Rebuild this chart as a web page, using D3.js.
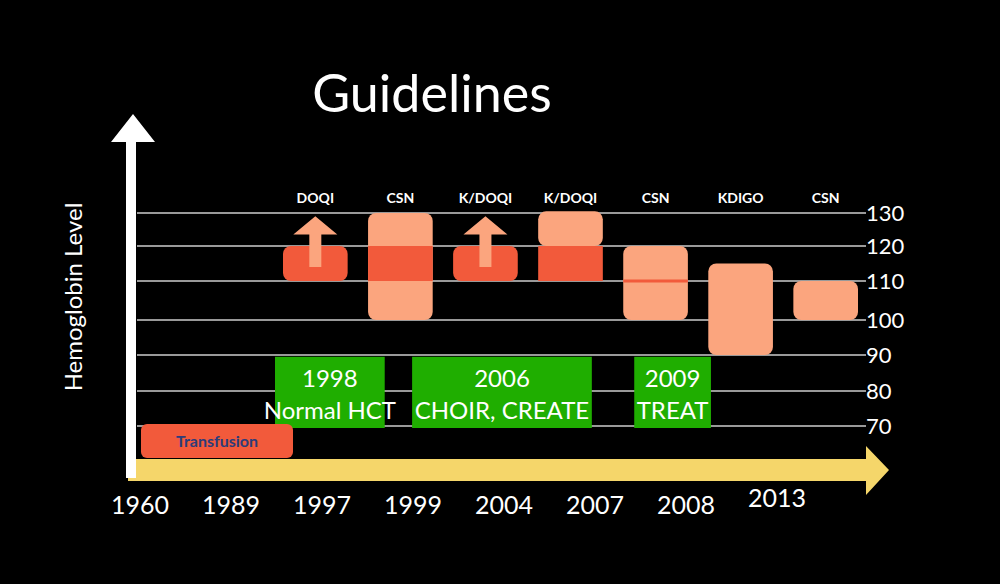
<!DOCTYPE html>
<html>
<head>
<meta charset="utf-8">
<script src="https://cdn.jsdelivr.net/npm/d3@7"></script>
<style>
  body { margin: 0; background: #000; }
  svg { display: block; font-family: Lato, "Open Sans", sans-serif; }
</style>
</head>
<body>
<svg id="chart" width="1000" height="584"></svg>
<script>
// hemoglobin ticks
var levels = [70, 80, 90, 100, 110, 120, 130];
// guideline bodies and their target ranges
var guides = ["DOQI", "CSN", "K/DOQI", "K/DOQI ", "CSN ", "KDIGO", "CSN  "];
var rangeLow  = [110, 100, 110, 120, 100, 90, 100];
var rangeHigh = [120, 130, 120, 130.5, 120, 115, 110];
// darker "core" band inside some ranges (null = none)
var coreLow  = [null, 110, null, 110, 110, null, null];
var coreHigh = [null, 120, null, 120, 110, null, null];
var hasArrow = [true, false, true, false, false, false, false];
var years = ["1960", "1989", "1997", "1999", "2004", "2007", "2008", "2013"];
// trials: guide index span they sit under, text lines
var trials = [
  {from: 0, to: 1, lines: ["1998", "Normal HCT"]},
  {from: 2, to: 3, lines: ["2006", "CHOIR, CREATE"]},
  {from: 4, to: 5, lines: ["2009", "TREAT"]}
];

var svg = d3.select("#chart");
var light = "#fba57e", red = "#f25a3b", green = "#1fae00";

// the slide spacing between levels is uneven, so piecewise scale
var y = d3.scaleLinear().domain(levels).range([426, 391, 355, 320, 281, 246, 213]);
var x = d3.scaleBand().domain(guides).range([283, 858]).paddingInner(0.24).paddingOuter(0);
var xYear = d3.scalePoint().domain(years).range([140, 777]);
var bw = x.bandwidth();

svg.append("text").attr("x", 432).attr("y", 112).attr("text-anchor", "middle")
  .attr("fill", "#fff").attr("font-size", 52).text("Guidelines");

// grid + right tick labels
svg.append("g").selectAll("line").data(levels).join("line")
  .attr("x1", 137).attr("x2", 866)
  .attr("y1", d => y(d)).attr("y2", d => y(d))
  .attr("stroke", "#ccc").attr("stroke-width", 1.5);
svg.append("g").selectAll("text").data(levels).join("text")
  .attr("x", 866).attr("y", d => y(d) + 8)
  .attr("fill", "#fff").attr("font-size", 22).text(d => d);

// trial boxes
var trialPad = [[-8, -48], [-41, -11], [11, -62]];
trials.forEach((t, k) => {
  var x0 = x(guides[t.from]) + trialPad[k][0], x1 = x(guides[t.to]) + bw + trialPad[k][1];
  var g = svg.append("g");
  g.append("rect").attr("x", x0).attr("y", y(89.5)).attr("width", x1 - x0).attr("height", y(70) + 2 - y(89.5))
    .attr("fill", green);
  g.selectAll("text").data(t.lines).join("text")
    .attr("x", (x0 + x1) / 2).attr("y", (d, i) => y(83) + 7 + i * 32)
    .attr("text-anchor", "middle").attr("fill", "#fff").attr("font-size", 24).text(d => d);
});

// guideline ranges
var gi = d => guides.indexOf(d);
var gg = svg.append("g").selectAll("g").data(guides).join("g");
gg.append("rect")
  .attr("x", d => x(d)).attr("width", bw)
  .attr("y", d => y(rangeHigh[gi(d)])).attr("height", d => y(rangeLow[gi(d)]) - y(rangeHigh[gi(d)]))
  .attr("rx", 8).attr("fill", d => hasArrow[gi(d)] ? red : light);
gg.filter(d => coreLow[gi(d)] != null).append("rect")
  .attr("x", d => x(d)).attr("width", bw)
  .attr("y", d => y(coreHigh[gi(d)]) - (coreHigh[gi(d)] == coreLow[gi(d)] ? 1.5 : 0))
  .attr("height", d => Math.max(3, y(coreLow[gi(d)]) - y(coreHigh[gi(d)])))
  .attr("fill", red);
gg.filter(d => hasArrow[gi(d)]).append("path")
  .attr("d", d => {
    var cx = x(d) + bw / 2, top = y(129), base = y(123.5), bot = y(114);
    return `M${cx - 6},${bot}V${base}H${cx - 22}L${cx},${top}L${cx + 22},${base}H${cx + 6}V${bot}Z`;
  })
  .attr("fill", light);
gg.append("text")
  .attr("x", d => x(d) + bw / 2).attr("y", 203)
  .attr("text-anchor", "middle").attr("fill", "#fff").attr("font-size", 14).attr("font-weight", "bold")
  .text(d => d.trim());

// transfusion
svg.append("rect").attr("x", 141).attr("y", 424).attr("width", 152).attr("height", 34).attr("rx", 6).attr("fill", red);
svg.append("text").attr("x", 217).attr("y", 447).attr("text-anchor", "middle")
  .attr("fill", "#2c3c7a").attr("font-size", 16).attr("font-weight", "bold").text("Transfusion");

// time arrow
svg.append("path").attr("d", "M128,459H866V446L889,470L866,495V481H128Z").attr("fill", "#f5d66a");
// y arrow
svg.append("path").attr("d", "M126,478V142H111L133,114L155,142H136V478Z").attr("fill", "#fff");

svg.append("text").attr("transform", "translate(82,297) rotate(-90)").attr("text-anchor", "middle")
  .attr("fill", "#fff").attr("font-size", 24).text("Hemoglobin Level");

svg.append("g").selectAll("text").data(years).join("text")
  .attr("x", d => xYear(d)).attr("y", d => d == "2013" ? 507 : 514)
  .attr("text-anchor", "middle").attr("fill", "#fff").attr("font-size", 25).text(d => d);
</script>
</body>
</html>
